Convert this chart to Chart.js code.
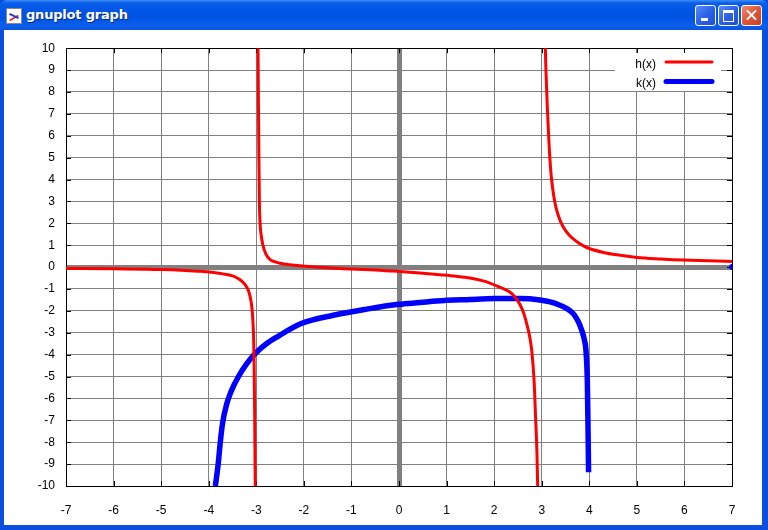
<!DOCTYPE html>
<html>
<head>
<meta charset="utf-8">
<script src="https://cdn.jsdelivr.net/npm/chart.js@4"></script>
<style>
  html, body { margin:0; padding:0; background:#fff; }
  #win { position:relative; width:768px; height:530px; background:#0A4FE0; overflow:hidden; font-family:"Liberation Sans", Arial, sans-serif; }
  #titlebar { position:absolute; left:0; top:0; width:768px; height:30px;
    background:linear-gradient(to bottom,#3D8CF5 0%,#0A5EEA 10%,#0055E5 35%,#0053E3 60%,#0B5FEB 85%,#0A55E0 100%);
    border-radius:7px 7px 0 0; }
  #title { position:absolute; left:26px; top:7px; color:#fff; font:bold 13px "DejaVu Sans", "Liberation Sans", sans-serif; text-shadow:1px 1px 0 #0A2A8A; letter-spacing:-0.2px; }
  #icon { position:absolute; left:6px; top:8px; width:14px; height:14px; background:#fff; border:1px solid #888; }
  #icon:before { content:""; position:absolute; left:2px; top:8px; width:10px; height:2px; background:#d33; transform:rotate(-30deg); }
  #icon:after { content:""; position:absolute; left:2px; top:6px; width:10px; height:2px; background:#33c; transform:rotate(25deg); }
  .btn { position:absolute; top:5px; width:19px; height:19px; border:1px solid #fff; border-radius:3px;
    background:linear-gradient(to bottom right,#5A8CF8 0%,#2B62E8 50%,#1F4FD6 100%); }
  #bmin { left:695px; } #bmax { left:718px; } #bclose { left:741px; background:linear-gradient(to bottom right,#F08A6A 0%,#E0553A 50%,#C8401F 100%); }
  #bmin:after { content:""; position:absolute; left:5px; top:12px; width:7px; height:3px; background:#fff; }
  #bmax:after { content:""; position:absolute; left:4px; top:4px; width:9px; height:8px; border:1px solid #fff; border-top:3px solid #fff; }
  #bclose:before, #bclose:after { content:""; position:absolute; left:3px; top:8px; width:13px; height:2px; background:#fff; }
  #bclose:before { transform:rotate(45deg); } #bclose:after { transform:rotate(-45deg); }
  #client { position:absolute; left:4px; top:30px; width:758px; height:495px; background:#fff; }
  canvas { display:block; }
</style>
</head>
<body>
<div id="win">
  <div id="titlebar">
    <div id="icon"></div>
    <div id="title">gnuplot graph</div>
    <div class="btn" id="bmin"></div>
    <div class="btn" id="bmax"></div>
    <div class="btn" id="bclose"></div>
  </div>
  <div id="client"><canvas id="c" width="758" height="495"></canvas></div>
</div>
<script>
// ---- data ----
const xTicks = [-7,-6,-5,-4,-3,-2,-1,0,1,2,3,4,5,6,7];
const yTicks = [-10,-9,-8,-7,-6,-5,-4,-3,-2,-1,0,1,2,3,4,5,6,7,8,9,10];

const seriesNames = ["h(x)", "k(x)"];

// h(x): three branches separated by nulls
const hX = [-7,-6,-5,-4.5,-4.18,-3.9,-3.7,-3.5,-3.4,-3.3,-3.22,-3.16,-3.12,-3.09,-3.07,-3.055,-3.045,-3.035,-3.02,
            -3.0,
            -2.965,-2.955,-2.945,-2.935,-2.92,-2.9,-2.86,-2.8,-2.71,-2.6,-2.5,-2.3,-2.08,-1.5,-1.24,-0.4,0,0.44,0.86,1.2,1.49,1.75,1.91,2.1,2.33,2.45,2.54,2.62,2.68,2.74,2.79,2.84,2.87,2.9,2.92,
            3.0,
            3.07,3.09,3.12,3.15,3.19,3.23,3.28,3.35,3.45,3.58,3.74,3.87,4.0,4.3,4.58,5.0,5.5,5.98,6.5,7];
const hY = [-0.06,-0.08,-0.11,-0.15,-0.19,-0.25,-0.31,-0.4,-0.5,-0.65,-0.85,-1.1,-1.45,-1.9,-2.5,-3.3,-4.5,-6.5,-10.5,
            null,
            10.5,7.5,5,3,2.0,1.5,1.0,0.6,0.34,0.24,0.18,0.11,0.06,-0.03,-0.06,-0.14,-0.2,-0.27,-0.35,-0.42,-0.5,-0.62,-0.73,-0.9,-1.14,-1.4,-1.7,-2.1,-2.55,-3.1,-3.8,-5.2,-6.8,-8.5,-10.5,
            null,
            10.5,8.9,7.2,5.8,4.4,3.6,2.92,2.35,1.84,1.45,1.16,0.98,0.85,0.67,0.56,0.44,0.37,0.32,0.29,0.26];

// k(x): one branch, plus the isolated sample at the right edge
const kX = [-3.86,-3.8,-3.76,-3.71,-3.62,-3.52,-3.38,-3.2,-2.99,-2.78,-2.54,-2.08,-1.38,-0.68,0,0.44,0.79,1.49,2.0,2.54,2.96,3.2,3.38,3.53,3.66,3.76,3.84,3.9,3.93,3.96,3.975,3.985,
            5.5, 7];
const kY = [-10,-8.98,-8.07,-7.15,-6.24,-5.63,-5.02,-4.41,-3.88,-3.49,-3.16,-2.6,-2.2,-1.92,-1.7,-1.62,-1.55,-1.48,-1.44,-1.44,-1.5,-1.6,-1.74,-1.9,-2.12,-2.45,-2.88,-3.35,-3.8,-5.32,-7.61,-9.37,
            null, 0];

const hColor = "#FF0000";
const kColor = "#0000FF";

function toPoints(xs, ys) { return xs.map((x, i) => ({ x: x, y: ys[i] })); }

const frame = {
  id: "frame",
  beforeDatasetsDraw(chart) {
    const { ctx, chartArea: a, scales } = chart;
    ctx.save();
    ctx.strokeStyle = "#000";
    ctx.lineWidth = 1;
    ctx.beginPath();
    xTicks.forEach(v => {
      const px = Math.round(scales.x.getPixelForValue(v)) + 0.5;
      ctx.moveTo(px, a.top); ctx.lineTo(px, a.top + 5);
      ctx.moveTo(px, a.bottom); ctx.lineTo(px, a.bottom - 5);
    });
    yTicks.forEach(v => {
      const py = Math.round(scales.y.getPixelForValue(v)) + 0.5;
      ctx.moveTo(a.left, py); ctx.lineTo(a.left + 5, py);
      ctx.moveTo(a.right, py); ctx.lineTo(a.right - 5, py);
    });
    ctx.stroke();
    ctx.strokeRect(Math.round(a.left) + 0.5, Math.round(a.top) + 0.5, Math.round(a.right - a.left), Math.round(a.bottom - a.top));
    ctx.restore();
  },
  afterDraw(chart) {
    const { ctx } = chart;
    ctx.save();
    ctx.fillStyle = "#fff";
    ctx.fillRect(611, 23, 106, 38);
    ctx.font = "12px 'Liberation Sans', Arial, sans-serif";
    ctx.fillStyle = "#000";
    ctx.textAlign = "right";
    ctx.textBaseline = "middle";
    const ds = chart.data.datasets;
    const rows = [{ y: 35, ly: 32, w: 3 }, { y: 54, ly: 51.5, w: 5 }];
    rows.forEach((r, i) => {
      ctx.fillText(ds[i].label, 652, r.y);
      ctx.strokeStyle = ds[i].borderColor;
      ctx.lineWidth = r.w;
      ctx.lineCap = "round";
      ctx.beginPath();
      ctx.moveTo(662, r.ly); ctx.lineTo(708, r.ly);
      ctx.stroke();
    });
    ctx.restore();
  }
};

new Chart(document.getElementById("c"), {
  type: "line",
  data: {
    datasets: [
      { label: seriesNames[0], data: toPoints(hX, hY), borderColor: hColor, backgroundColor: hColor,
        borderWidth: 3, pointRadius: 0, spanGaps: false, cubicInterpolationMode: "monotone" },
      { label: seriesNames[1], data: toPoints(kX, kY), borderColor: kColor, backgroundColor: kColor,
        borderWidth: 5.5, spanGaps: false, cubicInterpolationMode: "monotone",
        pointRadius: c => (c.dataIndex === kX.length - 1 ? 3 : 0), pointBorderWidth: 0 }
    ]
  },
  options: {
    responsive: false,
    animation: false,
    devicePixelRatio: 1,
    layout: { padding: { top: 18, right: 30, left: 0, bottom: 0 } },
    plugins: { legend: { display: false }, tooltip: { enabled: false } },
    scales: {
      x: {
        type: "linear", min: -7, max: 7,
        afterBuildTicks: s => { s.ticks = xTicks.map(v => ({ value: v })); },
        afterFit: s => { s.height = 39; },
        border: { display: false },
        grid: { color: "#808080", lineWidth: c => (c.tick && c.tick.value === 0 ? 5 : 1), drawTicks: false },
        ticks: { padding: 17, color: "#000", font: { family: "'Liberation Sans', Arial, sans-serif", size: 12 }, maxRotation: 0, autoSkip: false }
      },
      y: {
        type: "linear", min: -10, max: 10,
        afterBuildTicks: s => { s.ticks = yTicks.map(v => ({ value: v })); },
        afterFit: s => { s.width = 62; },
        border: { display: false },
        grid: { color: "#808080", lineWidth: c => (c.tick && c.tick.value === 0 ? 5 : 1), drawTicks: false },
        ticks: { padding: 11, color: "#000", font: { family: "'Liberation Sans', Arial, sans-serif", size: 12 }, autoSkip: false }
      }
    }
  },
  plugins: [frame]
});
</script>
</body>
</html>
